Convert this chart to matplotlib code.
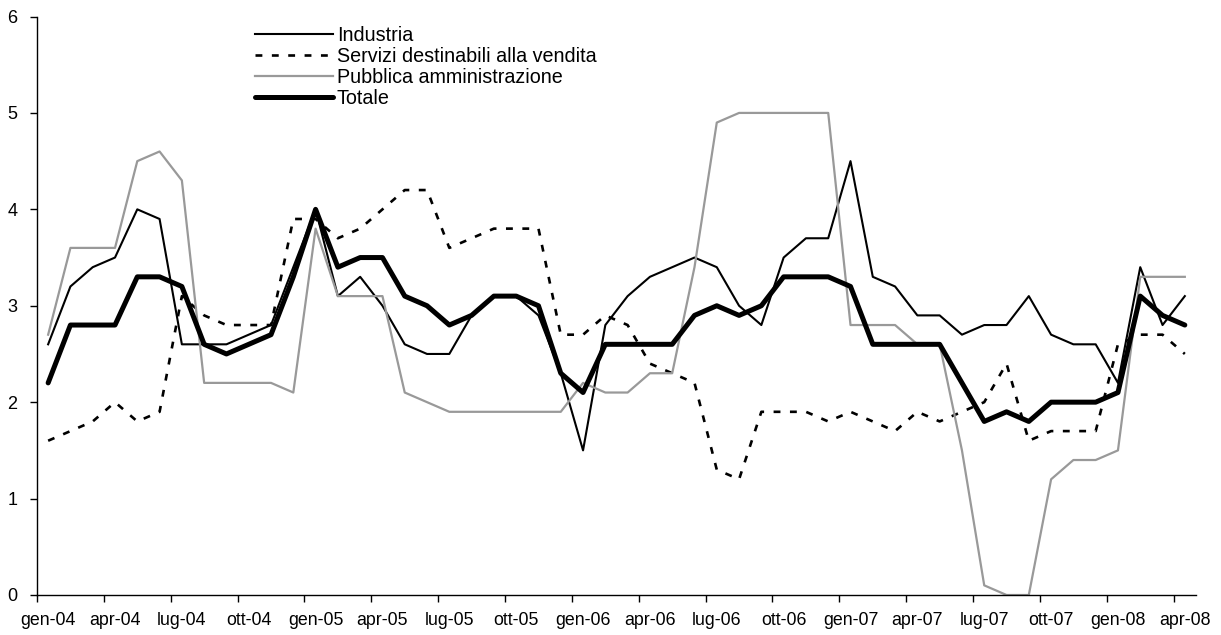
import matplotlib
matplotlib.use("Agg")
import matplotlib.pyplot as plt
import numpy as np

plt.rcParams['font.family'] = ['Liberation Sans', 'DejaVu Sans']

# monthly observations, gen-04 .. apr-08
months = ['gen', 'feb', 'mar', 'apr', 'mag', 'giu', 'lug', 'ago', 'set', 'ott', 'nov', 'dic']
labels = [f"{months[i % 12]}-{4 + i // 12:02d}" for i in range(52)]

industria = [2.6, 3.2, 3.4, 3.5, 4.0, 3.9, 2.6, 2.6, 2.6, 2.7, 2.8, 3.4, 4.0,
             3.1, 3.3, 3.0, 2.6, 2.5, 2.5, 2.9, 3.1, 3.1, 2.9, 2.3, 1.5,
             2.8, 3.1, 3.3, 3.4, 3.5, 3.4, 3.0, 2.8, 3.5, 3.7, 3.7, 4.5,
             3.3, 3.2, 2.9, 2.9, 2.7, 2.8, 2.8, 3.1, 2.7, 2.6, 2.6, 2.2, 3.4, 2.8, 3.1]
servizi = [1.6, 1.7, 1.8, 2.0, 1.8, 1.9, 3.1, 2.9, 2.8, 2.8, 2.8, 3.9, 3.9,
           3.7, 3.8, 4.0, 4.2, 4.2, 3.6, 3.7, 3.8, 3.8, 3.8, 2.7, 2.7,
           2.9, 2.8, 2.4, 2.3, 2.2, 1.3, 1.2, 1.9, 1.9, 1.9, 1.8, 1.9,
           1.8, 1.7, 1.9, 1.8, 1.9, 2.0, 2.4, 1.6, 1.7, 1.7, 1.7, 2.6, 2.7, 2.7, 2.5]
pubblica = [2.7, 3.6, 3.6, 3.6, 4.5, 4.6, 4.3, 2.2, 2.2, 2.2, 2.2, 2.1, 3.8,
            3.1, 3.1, 3.1, 2.1, 2.0, 1.9, 1.9, 1.9, 1.9, 1.9, 1.9, 2.2,
            2.1, 2.1, 2.3, 2.3, 3.4, 4.9, 5.0, 5.0, 5.0, 5.0, 5.0, 2.8,
            2.8, 2.8, 2.6, 2.6, 1.5, 0.1, 0.0, 0.0, 1.2, 1.4, 1.4, 1.5, 3.3, 3.3, 3.3]
totale = [2.2, 2.8, 2.8, 2.8, 3.3, 3.3, 3.2, 2.6, 2.5, 2.6, 2.7, 3.3, 4.0,
          3.4, 3.5, 3.5, 3.1, 3.0, 2.8, 2.9, 3.1, 3.1, 3.0, 2.3, 2.1,
          2.6, 2.6, 2.6, 2.6, 2.9, 3.0, 2.9, 3.0, 3.3, 3.3, 3.3, 3.2,
          2.6, 2.6, 2.6, 2.6, 2.2, 1.8, 1.9, 1.8, 2.0, 2.0, 2.0, 2.1, 3.1, 2.9, 2.8]

x = np.arange(len(labels)) + 0.5  # points sit in the middle of each month slot

fig = plt.figure(figsize=(12.21, 6.35), dpi=100)
ax = fig.add_axes([0.0303, 0.063, 0.9492, 0.911])

ax.plot(x, industria, color='black', lw=1.5, label='Industria')
ax.plot(x, servizi, color='black', lw=1.9, linestyle=(0, (2.6, 3.6)),
        label='Servizi destinabili alla vendita')
ax.plot(x, pubblica, color='#999999', lw=1.6, label='Pubblica amministrazione')
ax.plot(x, totale, color='black', lw=3.6, solid_joinstyle='round',
        solid_capstyle='round', label='Totale')

ax.set_xlim(0, len(labels))
ax.set_ylim(0, 6)
ax.set_yticks(range(7))

# tick marks on month boundaries, labels under the first point of each quarter
ax.set_xticks(np.arange(0, len(labels), 3))
ax.set_xticklabels([])
ax.set_xticks(x[::3], minor=True)
ax.set_xticklabels(labels[::3], minor=True)
ax.tick_params(axis='x', which='minor', length=0, labelsize=12.8, pad=12.5)
ax.tick_params(axis='x', which='major', length=5, width=1, direction='out')
ax.tick_params(axis='y', length=5, width=1, direction='out', labelsize=13, pad=9)

for side in ['top', 'right']:
    ax.spines[side].set_visible(False)
for side in ['left', 'bottom']:
    ax.spines[side].set_linewidth(1)

ax.legend(loc='upper left', bbox_to_anchor=(255 / 1221, 1 - 26 / 635),
          bbox_transform=fig.transFigure, frameon=False, fontsize=14.2,
          handlelength=3.95, handletextpad=0.2, labelspacing=0.1, borderpad=0,
          borderaxespad=0)

fig.savefig('out.png', dpi=100)
